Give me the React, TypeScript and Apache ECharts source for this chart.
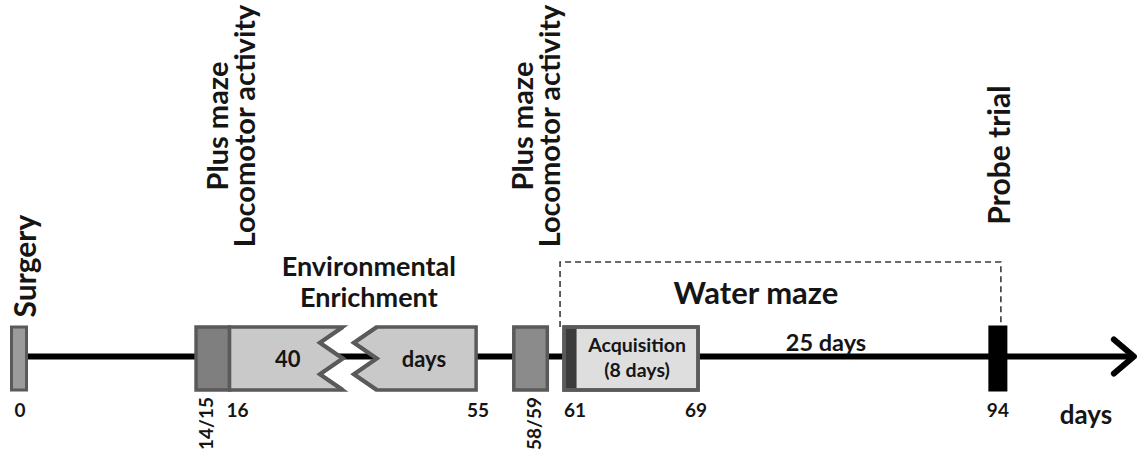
import React, { useEffect, useRef } from 'react';
import * as echarts from 'echarts';

// ---------------- data ----------------
const timelineStart = 0;
const timelineEnd = 102.24; // arrow tip (days axis end)
const pointEventNames = ['Surgery', 'Probe trial'];
const pointEventDays = [0, 94];
const periodNames = ['Plus maze / Locomotor activity', 'Environmental Enrichment', 'Plus maze / Locomotor activity', 'Acquisition'];
const periodStarts = [14, 16, 58, 61];
const periodEnds = [16, 55, 60, 69];
const topLabels = ['Surgery', 'Plus maze\nLocomotor activity', 'Plus maze\nLocomotor activity', 'Probe trial'];
const topLabelDays = [0, 15, 59, 94];
const tickDays = [0, 16, 55, 61, 69, 94];
const tickLabels = ['0', '16', '55', '61', '69', '94'];
const rotatedTickDays = [15, 59];
const rotatedTickLabels = ['14/15', '58/59'];
const enrichmentTitle = ['Environmental', 'Enrichment'];
const enrichmentDuration = ['40', 'days'];
const acquisitionLabel = 'Acquisition\n(8 days)';
const waterMazeRange = [61, 94];
const waterMazeLabel = 'Water maze';
const intervalRange = [69, 94];
const intervalLabel = '25 days';
const axisUnitLabel = 'days';
// schematic (broken) time axis
const axisBreaks = [
  { start: 3, end: 11, gap: 4.57 },
  { start: 22, end: 49, gap: 2.72 },
  { start: 55.5, end: 57.5, gap: 1.25 },
  { start: 73, end: 90, gap: 9.9 },
];

// ---------------- styles ----------------
const FONT = 'Lato, "Open Sans", sans-serif';
const TEXT = '#151515';
const BORDER = '#5a5a5a';
const BOX_TOP = -29.5;
const BOX_BOTTOM = 33.5;
const periodFills = ['#7f7f7f', '#c9c9c9', '#8b8b8b', '#dedede'];
const periodLeadStrip = [false, false, false, true];
const eventFills = ['#9b9b9b', '#000000'];
const eventStrokes = [BORDER, '#000000'];

export default function App() {
  const ref = useRef<HTMLDivElement>(null);

  useEffect(() => {
    const chart = echarts.init(ref.current!, null, { renderer: 'svg' });

    type Ann = {
      day: number; dx: number; y: number; text: string; size: number;
      rot?: boolean; align?: string; lh?: number; weight?: string;
    };
    const topDx = [5, 17, 4, 0];
    const topY = [266, 126, 126, 155];
    const topSize = [30, 29, 29, 30];
    const anns: Ann[] = [];
    topLabels.forEach((t, i) =>
      anns.push({ day: topLabelDays[i], dx: topDx[i], y: topY[i], text: t, size: topSize[i], rot: true, align: 'center', lh: 27 })
    );
    const tickAlign = ['center', 'left', 'center', 'left', 'center', 'center'];
    const tickDx = [1, -3, 2, 0, -2, 0];
    tickLabels.forEach((t, i) =>
      anns.push({ day: tickDays[i], dx: tickDx[i], y: 409, text: t, size: 19, align: tickAlign[i] })
    );
    const rotTickDx = [-7, 3];
    rotatedTickLabels.forEach((t, i) =>
      anns.push({ day: rotatedTickDays[i], dx: rotTickDx[i], y: 397, text: t, size: 19, rot: true, align: 'right' })
    );
    anns.push({ day: timelineEnd, dx: -50, y: 414, text: axisUnitLabel, size: 26 });
    anns.push({ day: periodStarts[1], dx: 0, y: 265, text: enrichmentTitle[0], size: 27, align: 'ee' });
    anns.push({ day: periodStarts[1], dx: 0, y: 296, text: enrichmentTitle[1], size: 27, align: 'ee' });
    anns.push({ day: periodStarts[1], dx: 0, y: 358, text: enrichmentDuration[0], size: 22, align: 'eeL' });
    anns.push({ day: periodEnds[1], dx: 0, y: 358, text: enrichmentDuration[1], size: 22, align: 'eeR' });
    anns.push({ day: periodStarts[3], dx: 0, y: 357, text: acquisitionLabel, size: 19.5, lh: 25, align: 'acq' });
    anns.push({ day: waterMazeRange[0], dx: 0, y: 292, text: waterMazeLabel, size: 31, align: 'wm' });
    anns.push({ day: intervalRange[0], dx: 0, y: 342, text: intervalLabel, size: 23.5, align: 'iv' });

    const xc = (api: any, d: number) => api.coord([d, 0])[0];
    const eeBreak = axisBreaks.find((b) => b.start > periodStarts[1] && b.end < periodEnds[1])!;

    const option: any = {
      animation: false,
      backgroundColor: '#ffffff',
      grid: { left: 2.25, right: 2.1, top: 346, bottom: 99 },
      xAxis: {
        type: 'value',
        min: -1,
        max: timelineEnd,
        breaks: axisBreaks,
        breakArea: { show: false },
        axisLine: { show: false },
        axisTick: { show: false },
        axisLabel: { show: false },
        splitLine: { show: false },
      },
      yAxis: { type: 'value', min: -1, max: 1, show: false },
      series: [
        // main time line with arrow
        {
          type: 'custom', silent: true, z: 1,
          data: [[timelineStart, timelineEnd]],
          renderItem: (_p: any, api: any) => {
            const a = api.coord([api.value(0), 0]);
            const b = api.coord([api.value(1), 0]);
            return {
              type: 'group',
              children: [
                { type: 'line', shape: { x1: a[0], y1: a[1], x2: b[0] - 4, y2: b[1] }, style: { stroke: '#000', lineWidth: 6 } },
                {
                  type: 'polyline',
                  shape: { points: [[b[0] - 22, b[1] - 17], [b[0] - 2, b[1]], [b[0] - 22, b[1] + 17]] },
                  style: { stroke: '#000', lineWidth: 6, fill: null, lineCap: 'round', lineJoin: 'round' },
                },
              ],
            };
          },
        },
        // dashed water-maze bracket
        {
          type: 'custom', silent: true, z: 2,
          data: [[waterMazeRange[0], waterMazeRange[1]]],
          renderItem: (_p: any, api: any) => {
            const y = api.coord([0, 0])[1];
            const xl = xc(api, api.value(0)) - 4;
            const xr = xc(api, api.value(1)) + 3;
            return {
              type: 'polyline',
              shape: { points: [[xl, y + BOX_TOP], [xl, 262], [xr, 262], [xr, y + BOX_TOP]] },
              style: { stroke: '#3a3a3a', lineWidth: 1.6, lineDash: [6, 4], fill: null },
            };
          },
        },
        // period boxes
        {
          type: 'custom', silent: true, z: 3,
          data: periodStarts.map((s, i) => [s, periodEnds[i], i]),
          renderItem: (_p: any, api: any) => {
            const i = api.value(2);
            const s = api.value(0);
            const e = api.value(1);
            const x0 = xc(api, s);
            const x1 = xc(api, e);
            const y = api.coord([0, 0])[1];
            const top = y + BOX_TOP;
            const bot = y + BOX_BOTTOM;
            const st = { fill: periodFills[i], stroke: BORDER, lineWidth: 3.5, lineJoin: 'miter' };
            const brk = axisBreaks.find((b) => b.start > s && b.end < e);
            if (brk) {
              const c = (xc(api, brk.start) + xc(api, brk.end)) / 2 - 2;
              const h = bot - top;
              const fr = [0, 0.25, 0.5, 0.75, 1];
              const lo = [-8, -31, -8, -31, -8];
              const ro = [26, 3, 26, 3, 26];
              const lz = fr.map((f, k) => [c + lo[k], top + h * f]);
              const rz = fr.map((f, k) => [c + ro[k], top + h * f]);
              const left = [[x0, top], ...lz, [x0, bot]];
              const right = [[x1, top], [x1, bot], ...rz.slice().reverse()];
              return {
                type: 'group',
                children: [
                  { type: 'polygon', shape: { points: left }, style: st },
                  { type: 'polygon', shape: { points: right }, style: st },
                  { type: 'polyline', shape: { points: lz }, style: { stroke: BORDER, lineWidth: 4, fill: null, lineJoin: 'miter' } },
                  { type: 'polyline', shape: { points: rz }, style: { stroke: BORDER, lineWidth: 4, fill: null, lineJoin: 'miter' } },
                ],
              };
            }
            const children: any[] = [{ type: 'rect', shape: { x: x0, y: top, width: x1 - x0, height: bot - top }, style: st }];
            if (periodLeadStrip[i]) {
              children.push({ type: 'rect', shape: { x: x0 + 1.5, y: top + 1.5, width: 11, height: bot - top - 3 }, style: { fill: '#3b3b3b' } });
              children.push({ type: 'rect', shape: { x: x0, y: top, width: x1 - x0, height: bot - top }, style: { fill: null, stroke: BORDER, lineWidth: 3.5 } });
            }
            return { type: 'group', children };
          },
        },
        // point events (surgery, probe trial)
        {
          type: 'custom', silent: true, z: 3,
          data: pointEventDays.map((d, i) => [d, 0, i]),
          renderItem: (_p: any, api: any) => {
            const i = api.value(2);
            const p = api.coord([api.value(0), 0]);
            const w = i === 0 ? 15 : 16;
            return {
              type: 'rect',
              shape: { x: p[0] - w / 2, y: p[1] + BOX_TOP, width: w, height: BOX_BOTTOM - BOX_TOP },
              style: { fill: eventFills[i], stroke: eventStrokes[i], lineWidth: 3 },
            };
          },
        },
        // texts
        {
          type: 'custom', silent: true, z: 5,
          data: anns.map((a, i) => [a.day, 0, i]),
          renderItem: (_p: any, api: any) => {
            const a = anns[api.value(2)];
            let x = xc(api, a.day) + a.dx;
            let align = a.align || 'center';
            if (a.align === 'ee') {
              x = (xc(api, periodStarts[1]) + xc(api, periodEnds[1])) / 2 + 16;
              align = 'center';
            } else if (a.align === 'eeL') {
              x = (xc(api, periodStarts[1]) + xc(api, eeBreak.start)) / 2 + 8;
              align = 'center';
            } else if (a.align === 'eeR') {
              x = (xc(api, periodEnds[1]) + xc(api, eeBreak.end)) / 2 - 2;
              align = 'center';
            } else if (a.align === 'acq') {
              x = (xc(api, periodStarts[3]) + 12 + xc(api, periodEnds[3])) / 2;
              align = 'center';
            } else if (a.align === 'wm') {
              x = (xc(api, waterMazeRange[0]) + xc(api, waterMazeRange[1])) / 2 - 25;
              align = 'center';
            } else if (a.align === 'iv') {
              x = (xc(api, intervalRange[0]) + xc(api, intervalRange[1])) / 2 - 22;
              align = 'center';
            }
            return {
              type: 'text',
              x,
              y: a.y,
              rotation: a.rot ? Math.PI / 2 : 0,
              style: {
                text: a.text,
                fill: TEXT,
                fontFamily: FONT,
                fontSize: a.size,
                fontWeight: a.weight || 'bold',
                align,
                verticalAlign: 'middle',
                lineHeight: a.lh,
              },
            };
          },
        },
      ],
    };
    chart.setOption(option);
    return () => chart.dispose();
  }, []);

  return (
    <div
      ref={ref}
      style={{ position: 'absolute', left: 0, top: 0, width: 1138, height: 466, background: '#fff' }}
    />
  );
}
